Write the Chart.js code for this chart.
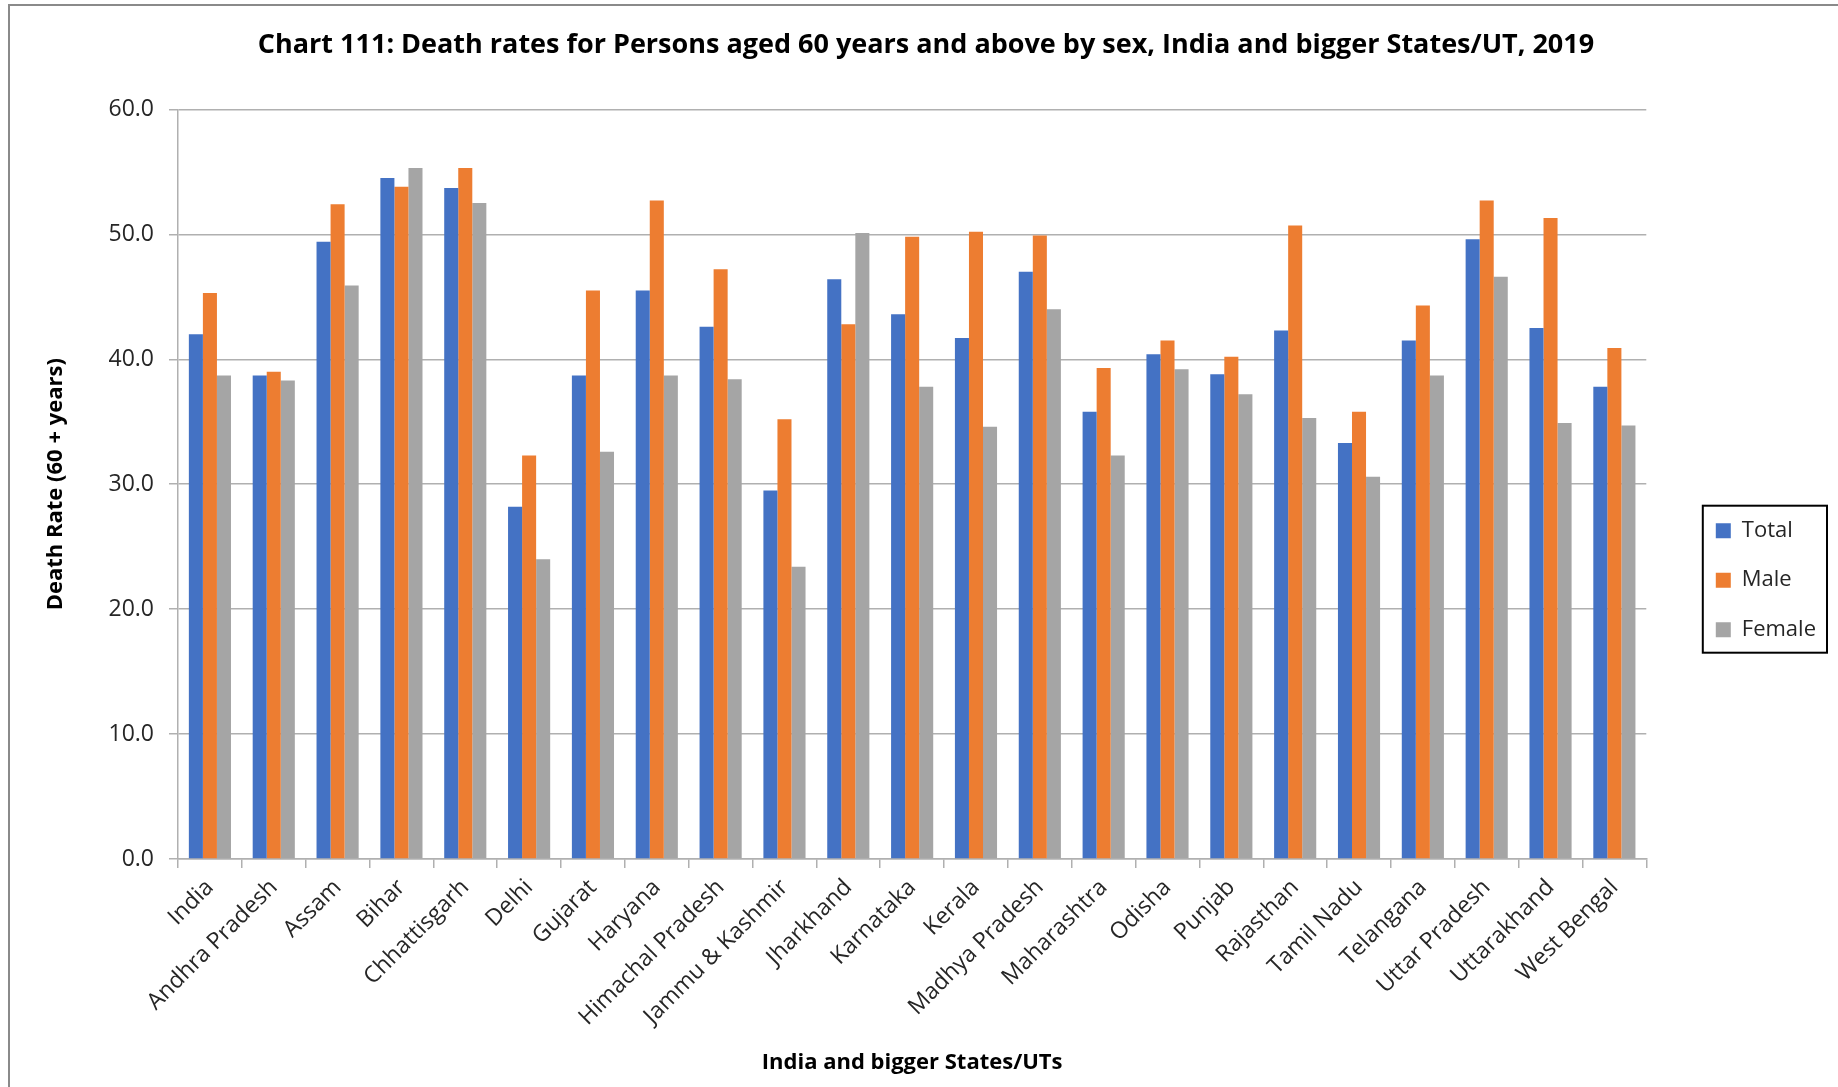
<!DOCTYPE html>
<html>
<head>
<meta charset="utf-8">
<title>Chart 111</title>
<script src="https://cdn.jsdelivr.net/npm/chart.js@4"></script>
<style>
  body { margin: 0; background: #fff; }
  #wrap { width: 1838px; height: 1087px; }
</style>
</head>
<body>
<div id="wrap"><canvas id="deathChart" width="1838" height="1087"></canvas></div>
<script>
// Data
const states = [
  "India", "Andhra Pradesh", "Assam", "Bihar", "Chhattisgarh", "Delhi",
  "Gujarat", "Haryana", "Himachal Pradesh", "Jammu & Kashmir", "Jharkhand",
  "Karnataka", "Kerala", "Madhya Pradesh", "Maharashtra", "Odisha", "Punjab",
  "Rajasthan", "Tamil Nadu", "Telangana", "Uttar Pradesh", "Uttarakhand",
  "West Bengal",
];
const totalRates = [42.0, 38.7, 49.4, 54.5, 53.7, 28.2, 38.7, 45.5, 42.6, 29.5, 46.4, 43.6, 41.7, 47.0, 35.8, 40.4, 38.8, 42.3, 33.3, 41.5, 49.6, 42.5, 37.8];
const maleRates = [45.3, 39.0, 52.4, 53.8, 55.3, 32.3, 45.5, 52.7, 47.2, 35.2, 42.8, 49.8, 50.2, 49.9, 39.3, 41.5, 40.2, 50.7, 35.8, 44.3, 52.7, 51.3, 40.9];
const femaleRates = [38.7, 38.3, 45.9, 55.3, 52.5, 24.0, 32.6, 38.7, 38.4, 23.4, 50.1, 37.8, 34.6, 44.0, 32.3, 39.2, 37.2, 35.3, 30.6, 38.7, 46.6, 34.9, 34.7];
const yTicks = [0, 10, 20, 30, 40, 50, 60];

const FONT = "'Open Sans', 'DejaVu Sans', sans-serif";
const gridGray = "#b0b0b0";

// white background + the cut-off outer frame (top and left edges only)
const framePlugin = {
  id: "frame",
  beforeDraw(chart) {
    const ctx = chart.ctx;
    ctx.save();
    ctx.fillStyle = "#fff";
    ctx.fillRect(0, 0, chart.width, chart.height);
    ctx.strokeStyle = "#8a8a8a";
    ctx.lineWidth = 2;
    ctx.beginPath();
    ctx.moveTo(9, chart.height);
    ctx.lineTo(9, 5);
    ctx.lineTo(chart.width, 5);
    ctx.stroke();
    ctx.restore();
  },
};

// nudge title and legend, then put a black box round the legend
const legendBoxPlugin = {
  id: "legendBox",
  afterLayout(chart) {
    const tb = chart.titleBlock;
    tb.left += 29; tb.right += 29;
    const lg = chart.legend;
    const area = chart.chartArea;
    const dx = 42;
    const dy = (area.top + area.bottom) / 2 + 96 - (lg.top + lg.bottom) / 2;
    lg.left += dx; lg.right += dx;
    lg.top += dy; lg.bottom += dy;
  },
  afterDraw(chart) {
    const boxes = chart.legend.legendHitBoxes;
    if (!boxes || !boxes.length) return;
    const first = boxes[0];
    const last = boxes[boxes.length - 1];
    const right = Math.max(...boxes.map((b) => b.left + b.width));
    const ctx = chart.ctx;
    ctx.save();
    ctx.strokeStyle = "#000";
    ctx.lineWidth = 2;
    ctx.strokeRect(first.left - 13, first.top - 14, right + 11 - (first.left - 13), last.top + last.height + 12 - (first.top - 14));
    ctx.restore();
  },
};

const ctx = document.getElementById("deathChart").getContext("2d");
new Chart(ctx, {
  type: "bar",
  data: {
    labels: states,
    datasets: [
      { label: "Total", data: totalRates, backgroundColor: "#4472C4" },
      { label: "Male", data: maleRates, backgroundColor: "#ED7D31" },
      { label: "Female", data: femaleRates, backgroundColor: "#A5A5A5" },
    ],
  },
  options: {
    responsive: false,
    animation: false,
    categoryPercentage: 0.66,
    barPercentage: 1.0,
    layout: { padding: { left: 10, right: 54, top: 0, bottom: 0 } },
    scales: {
      x: {
        grid: {
          offset: true,
          drawOnChartArea: false,
          color: gridGray,
          tickLength: 9,
          lineWidth: 1.5,
        },
        border: { color: gridGray, width: 1.5 },
        ticks: {
          autoSkip: false,
          maxRotation: 45,
          minRotation: 45,
          padding: 6,
          color: "#262626",
          font: { family: FONT, size: 23 },
        },
        title: {
          display: true,
          text: "India and bigger States/UTs",
          color: "#000",
          font: { family: FONT, size: 22, weight: "bold" },
          padding: { top: 4, bottom: 11 },
        },
        afterFit(scale) { scale.height = 228; },
      },
      y: {
        min: 0,
        max: 60,
        afterBuildTicks(scale) { scale.ticks = yTicks.map((v) => ({ value: v })); },
        grid: { color: gridGray, lineWidth: 1.5, tickLength: 9 },
        border: { color: gridGray, width: 1.5 },
        ticks: {
          padding: 15,
          color: "#262626",
          font: { family: FONT, size: 23 },
          callback: (v) => Number(v).toFixed(1),
        },
        title: {
          display: true,
          text: "Death Rate (60 + years)",
          color: "#000",
          font: { family: FONT, size: 22, weight: "bold" },
          padding: { top: 33, bottom: 4 },
        },
        afterFit(scale) { scale.width = 168; },
      },
    },
    plugins: {
      title: {
        display: true,
        text: "Chart 111: Death rates for Persons aged 60 years and above by sex, India and bigger States/UT, 2019",
        color: "#000",
        font: { family: FONT, size: 27, weight: "bold" },
        padding: { top: 29, bottom: 48 },
      },
      legend: {
        position: "right",
        labels: {
          boxWidth: 15,
          boxHeight: 15,
          padding: 27.5,
          color: "#262626",
          font: { family: FONT, size: 22 },
        },
      },
      tooltip: { enabled: false },
    },
  },
  plugins: [framePlugin, legendBoxPlugin],
});
</script>
</body>
</html>
